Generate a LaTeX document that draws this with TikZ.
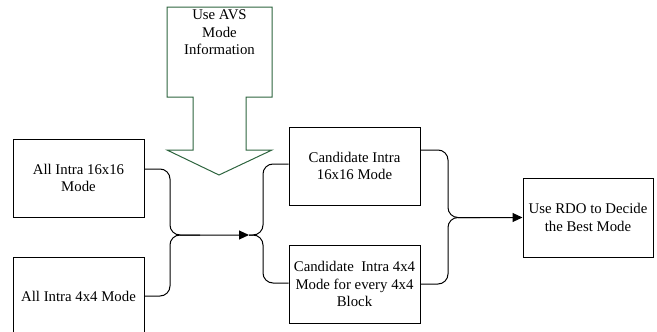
\documentclass[tikz,border=0pt]{standalone}
\usepackage{fontspec}
\setmainfont{Liberation Serif}
\usetikzlibrary{arrows.meta,calc}
\definecolor{avsgreen}{RGB}{45,100,62}
\begin{document}
\begin{tikzpicture}[x=1pt,y=-1pt,
  box/.style={draw=black,line width=1pt,minimum width=131pt,minimum height=78pt,inner sep=0pt,align=center,
    font=\fontsize{14.8}{17.5}\selectfont},
  conn/.style={draw=black,line width=1pt,rounded corners=10pt},
  arr/.style={-{Triangle[length=10pt,width=9pt]}},
  txt/.style={inner sep=0pt,align=center,font=\fontsize{14.8}{17.5}\selectfont}]
\clip (0,0) rectangle (657,332);
% big green arrow
\draw[avsgreen,line width=1pt] (167,7) -- (272,7) -- (272,97) -- (246,97) -- (246,150) -- (272,150)
  -- (219,175) -- (167,150) -- (193,150) -- (193,97) -- (167,97) -- cycle;
\node[txt,anchor=north] (avs) at (219.5,10) {Use AVS\\Mode\\Information};
% boxes
\node[box] (b1) at (78.5,178) {All Intra 16x16\\Mode};
\node[box] (b2) at (78.5,296) {All Intra 4x4 Mode};
\node[box] (b3) at (354.5,166) {Candidate Intra\\16x16 Mode};
\node[box] (b4) at (354.5,284) {Candidate~ Intra 4x4\\Mode for every 4x4\\Block};
\node[box,minimum width=130pt,minimum height=79pt] (b5) at (588,217.5) {Use RDO to Decide\\the Best Mode};
% junction points
\coordinate (j1) at (249,235);
\coordinate (j2) at (448,217.5);
% left merge
\path[conn,arr] ($(b1.east)+(0,-9)$) -| (170,235) -- (j1);
\path[conn] (b2.east) -| (170,235) -- (200,235);
% split
\path[conn] (j1) -| (263,164) -- ($(b3.west)+(0,-2)$);
\path[conn] (j1) -| (263,283) -- ($(b4.west)+(0,-1)$);
% right merge
\path[conn,arr] ($(b3.east)+(0,-16)$) -| (j2) -- (b5.west);
\path[conn] (b4.east) -| (j2) -- (480,217.5);
\end{tikzpicture}
\end{document}
